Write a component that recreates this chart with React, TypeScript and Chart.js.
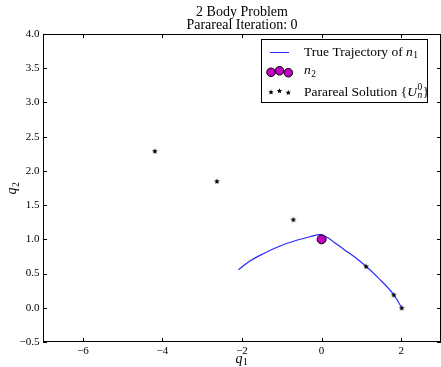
import React, { useEffect, useRef } from "react";
import { Chart, registerables } from "chart.js";

Chart.register(...registerables);

// ---------- data ----------
const TITLE_LINES = ["2 Body Problem", "Parareal Iteration: 0"];

const X_MIN = -7;
const X_MAX = 3;
const Y_MIN = -0.5;
const Y_MAX = 4;
const X_TICKS = [-6, -4, -2, 0, 2];
const X_TICK_LABELS = ["\u22126", "\u22124", "\u22122", "0", "2"];
const Y_TICKS = [-0.5, 0, 0.5, 1, 1.5, 2, 2.5, 3, 3.5, 4];
const Y_TICK_LABELS = ["\u22120.5", "0.0", "0.5", "1.0", "1.5", "2.0", "2.5", "3.0", "3.5", "4.0"];

// True trajectory of n1
const TRAJ_Q1 = [-2.09, -1.8, -1.465, -1.045, -0.626, -0.29, -0.04, 0.168, 0.337, 0.588, 0.839, 1.116, 1.425, 1.812, 2.013];
const TRAJ_Q2 = [0.556, 0.683, 0.79, 0.902, 0.986, 1.038, 1.07, 1.019, 0.946, 0.842, 0.737, 0.606, 0.436, 0.191, 0.0];

// n2 (central body)
const N2_Q1 = [0.0];
const N2_Q2 = [1.0];

// Parareal solution U_n^0
const PAR_Q1 = [-4.19, -2.63, -0.71, 1.116, 1.812, 2.013];
const PAR_Q2 = [2.29, 1.85, 1.29, 0.606, 0.191, 0.0];

// ---------- helpers ----------
const FAMILY = '"Liberation Serif", "DejaVu Serif", serif';
const LINE_COLOR = "#2a2aff";
const MAGENTA = "#bf00bf";

type Seg = { t: string; it?: boolean; sub?: string; subIt?: boolean; sup?: string };

function font(size: number, it?: boolean) {
  return `${it ? "italic " : ""}${size}px ${FAMILY}`;
}

function segWidth(ctx: CanvasRenderingContext2D, s: Seg, size: number) {
  ctx.font = font(size, s.it);
  const w = ctx.measureText(s.t).width;
  let extra = 0;
  if (s.sub) {
    ctx.font = font(size * 0.7, s.subIt);
    extra = Math.max(extra, ctx.measureText(s.sub).width + 1);
  }
  if (s.sup) {
    ctx.font = font(size * 0.7, false);
    extra = Math.max(extra, ctx.measureText(s.sup).width + 1);
  }
  return w + extra;
}

function drawRich(
  ctx: CanvasRenderingContext2D,
  segs: Seg[],
  x: number,
  y: number,
  size: number,
  align: "left" | "center"
) {
  const total = segs.reduce((a, s) => a + segWidth(ctx, s, size), 0);
  let cx = align === "center" ? x - total / 2 : x;
  ctx.textAlign = "left";
  ctx.textBaseline = "alphabetic";
  for (const s of segs) {
    ctx.font = font(size, s.it);
    ctx.fillText(s.t, cx, y);
    const w = ctx.measureText(s.t).width;
    if (s.sub) {
      ctx.font = font(size * 0.7, s.subIt);
      ctx.fillText(s.sub, cx + w + 0.5, y + size * 0.2);
    }
    if (s.sup) {
      ctx.font = font(size * 0.7, false);
      ctx.fillText(s.sup, cx + w + 0.5, y - size * 0.42);
    }
    cx += segWidth(ctx, s, size);
  }
}

function makeStar(r: number) {
  const c = document.createElement("canvas");
  const s = 8;
  c.width = s;
  c.height = s;
  const g = c.getContext("2d")!;
  g.translate(s / 2, s / 2 + 0.3);
  g.beginPath();
  for (let i = 0; i < 10; i++) {
    const rad = i % 2 ? r * 0.45 : r;
    const a = -Math.PI / 2 + (i * Math.PI) / 5;
    g.lineTo(rad * Math.cos(a), rad * Math.sin(a));
  }
  g.closePath();
  g.fillStyle = "#000";
  g.fill();
  return c;
}

function drawStarAt(ctx: CanvasRenderingContext2D, x: number, y: number, r: number) {
  ctx.beginPath();
  for (let i = 0; i < 10; i++) {
    const rad = i % 2 ? r * 0.45 : r;
    const a = -Math.PI / 2 + (i * Math.PI) / 5;
    ctx.lineTo(x + rad * Math.cos(a), y + rad * Math.sin(a));
  }
  ctx.closePath();
  ctx.fillStyle = "#000";
  ctx.fill();
}

const decorPlugin = {
  id: "decor",
  afterDraw(chart: any) {
    const ctx: CanvasRenderingContext2D = chart.ctx;
    const a = chart.chartArea;
    const xs = chart.scales.x;
    const ys = chart.scales.y;
    ctx.save();
    // frame
    ctx.strokeStyle = "#000";
    ctx.lineWidth = 1;
    ctx.strokeRect(a.left + 0.5, a.top + 0.5, a.right - a.left - 1, a.bottom - a.top - 1);
    // inner ticks
    const TL = 4;
    ctx.beginPath();
    for (const v of X_TICKS) {
      const px = Math.round(xs.getPixelForValue(v)) + 0.5;
      ctx.moveTo(px, a.bottom);
      ctx.lineTo(px, a.bottom - TL);
      ctx.moveTo(px, a.top);
      ctx.lineTo(px, a.top + TL);
    }
    for (const v of Y_TICKS) {
      const py = Math.round(ys.getPixelForValue(v)) + 0.5;
      ctx.moveTo(a.left, py);
      ctx.lineTo(a.left + TL, py);
      ctx.moveTo(a.right, py);
      ctx.lineTo(a.right - TL, py);
    }
    ctx.stroke();

    ctx.fillStyle = "#000";
    const cxMid = (a.left + a.right) / 2;
    // title
    ctx.font = font(14);
    ctx.textAlign = "center";
    ctx.textBaseline = "alphabetic";
    ctx.fillText(TITLE_LINES[0], cxMid, 15.5);
    ctx.fillText(TITLE_LINES[1], cxMid, 28.5);

    // axis labels
    drawRich(ctx, [{ t: "q", it: true, sub: "1" }], cxMid, 362.5, 14, "center");
    ctx.save();
    ctx.translate(16, (a.top + a.bottom) / 2);
    ctx.rotate(-Math.PI / 2);
    drawRich(ctx, [{ t: "q", it: true, sub: "2" }], 0, 0, 14, "center");
    ctx.restore();

    // legend
    const lx = 261, ly = 39, lw = 167, lh = 64;
    ctx.fillStyle = "#fff";
    ctx.fillRect(lx, ly, lw, lh);
    ctx.strokeStyle = "#000";
    ctx.lineWidth = 1;
    ctx.strokeRect(lx + 0.5, ly + 0.5, lw - 1, lh - 1);

    // row 1: line
    ctx.strokeStyle = LINE_COLOR;
    ctx.beginPath();
    ctx.moveTo(270, 52.5);
    ctx.lineTo(289, 52.5);
    ctx.stroke();
    // row 2: circles
    const circ = [
      [271, 72.3],
      [279.5, 70.8],
      [288.3, 72.7],
    ];
    for (const [x, y] of circ) {
      ctx.beginPath();
      ctx.arc(x, y, 4.3, 0, Math.PI * 2);
      ctx.fillStyle = MAGENTA;
      ctx.fill();
      ctx.strokeStyle = "#000";
      ctx.stroke();
    }
    // row 3: stars
    const st = [
      [271, 92.3],
      [279.5, 91],
      [288.3, 92.7],
    ];
    for (const [x, y] of st) drawStarAt(ctx, x, y, 2.8);

    ctx.fillStyle = "#000";
    drawRich(ctx, [{ t: "True Trajectory of " }, { t: "n", it: true, sub: "1" }], 304, 55.5, 13.5, "left");
    drawRich(ctx, [{ t: "n", it: true, sub: "2" }], 304, 74, 13.5, "left");
    drawRich(
      ctx,
      [{ t: "Parareal Solution {" }, { t: "U", it: true, sub: "n", subIt: true, sup: "0" }, { t: "}" }],
      304,
      95.5,
      13.5,
      "left"
    );
    ctx.restore();
  },
};

export default function App() {
  const ref = useRef<HTMLCanvasElement | null>(null);

  useEffect(() => {
    document.body.style.margin = "0";
    const canvas = ref.current!;
    const star = makeStar(3);
    const chart = new Chart(canvas, {
      type: "scatter",
      data: {
        datasets: [
          {
            label: "Parareal Solution",
            data: PAR_Q1.map((x, i) => ({ x, y: PAR_Q2[i] })),
            pointStyle: star as any,
            pointRadius: 3,
            showLine: false,
            order: 1,
          },
          {
            label: "n2",
            data: N2_Q1.map((x, i) => ({ x, y: N2_Q2[i] })),
            pointStyle: "circle",
            pointRadius: 4.5,
            backgroundColor: MAGENTA,
            borderColor: "#000",
            borderWidth: 1,
            showLine: false,
            order: 2,
          },
          {
            label: "True Trajectory of n1",
            data: TRAJ_Q1.map((x, i) => ({ x, y: TRAJ_Q2[i] })),
            showLine: true,
            borderColor: LINE_COLOR,
            borderWidth: 1.2,
            pointRadius: 0,
            cubicInterpolationMode: "monotone",
            fill: false,
            order: 3,
          },
        ],
      },
      options: {
        responsive: false,
        animation: false,
        devicePixelRatio: 1,
        layout: { autoPadding: false, padding: { left: 0, top: 34, right: 0, bottom: 0 } },
        plugins: {
          legend: { display: false },
          title: { display: false },
          tooltip: { enabled: false },
        },
        scales: {
          x: {
            type: "linear",
            min: X_MIN,
            max: X_MAX,
            grid: { display: false, drawTicks: false },
            border: { display: false },
            afterBuildTicks: (s: any) => {
              s.ticks = X_TICKS.map((v) => ({ value: v }));
            },
            afterFit: (s: any) => {
              s.height = 25;
              s.paddingLeft = 0;
              s.paddingRight = 0;
            },
            ticks: {
              autoSkip: false,
              maxRotation: 0,
              padding: 2.5,
              color: "#000",
              font: { family: FAMILY, size: 11 },
              callback: (v: any) => {
                const i = X_TICKS.indexOf(Number(v));
                return i >= 0 ? X_TICK_LABELS[i] : "";
              },
            },
          },
          y: {
            type: "linear",
            min: Y_MIN,
            max: Y_MAX,
            grid: { display: false, drawTicks: false },
            border: { display: false },
            afterBuildTicks: (s: any) => {
              s.ticks = Y_TICKS.map((v) => ({ value: v }));
            },
            afterFit: (s: any) => {
              s.width = 43;
              s.paddingTop = 0;
              s.paddingBottom = 0;
            },
            ticks: {
              autoSkip: false,
              padding: 3.5,
              color: "#000",
              font: { family: FAMILY, size: 11 },
              callback: (v: any) => {
                const i = Y_TICKS.findIndex((t) => Math.abs(t - Number(v)) < 1e-9);
                return i >= 0 ? Y_TICK_LABELS[i] : "";
              },
            },
          },
        },
      },
      plugins: [decorPlugin],
    });
    return () => chart.destroy();
  }, []);

  return (
    <div style={{ position: "absolute", left: 0, top: 0, width: 441, height: 367, background: "#fff" }}>
      <canvas ref={ref} width={441} height={367} style={{ display: "block" }} />
    </div>
  );
}
